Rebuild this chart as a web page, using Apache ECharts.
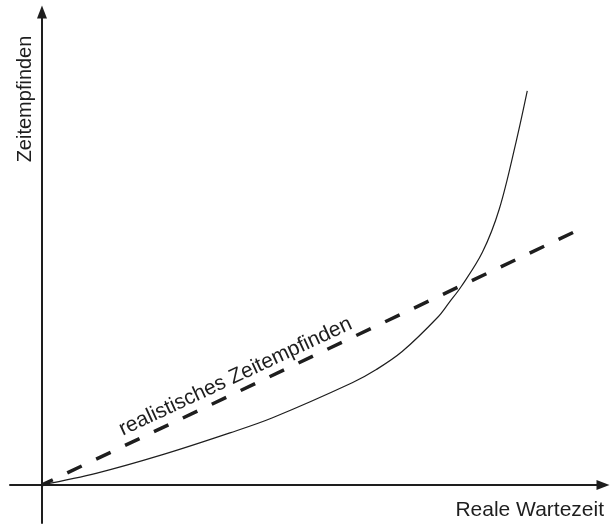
<!DOCTYPE html>
<html>
<head>
<meta charset="utf-8">
<script src="https://cdn.jsdelivr.net/npm/echarts@6/dist/echarts.min.js"></script>
<style>
  html, body { margin: 0; padding: 0; background: #fff; }
  #chart { width: 610px; height: 525px; }
</style>
</head>
<body>
<div id="chart"></div>
<script>
// Perceived waiting time (curve) against real waiting time
const curveX = [0, 9.8, 21.5, 33.5, 41.1, 55.3, 59.6, 64.2, 70.5, 72.6, 74.7, 78.5, 81.5, 84.5, 86.5];
const curveY = [0, 2.5, 6.4, 11.0, 14.2, 21.6, 24.4, 28.2, 35.4, 38.6, 41.9, 49.2, 58.3, 72.5, 83.3];

// Realistic time perception: straight line through the origin
const realX = [0, 94.7];
const realY = [0, 53.4];

const lineLabel = 'realistisches Zeitempfinden';
const labelAnchor = [34.5, 22.9];
const xTitle = 'Reale Wartezeit';
const yTitle = 'Zeitempfinden';

const ink = '#1e1e1e';
const font = 'Liberation Sans, Arial, sans-serif';

const zip = (xs, ys) => xs.map((x, i) => [x, ys[i]]);

const axisCommon = {
  type: 'value',
  axisLine: {
    onZero: true,
    symbol: ['none', 'triangle'],
    symbolSize: [10, 13],
    lineStyle: { color: ink, width: 2 }
  },
  axisTick: { show: false },
  axisLabel: { show: false },
  splitLine: { show: false }
};

const chart = echarts.init(document.getElementById('chart'));
chart.setOption({
  animation: false,
  backgroundColor: '#fff',
  grid: { left: 10, right: 7, top: 12, bottom: 2, containLabel: false },
  xAxis: Object.assign({}, axisCommon, { min: -5.7, max: 100 }),
  yAxis: Object.assign({}, axisCommon, { min: -8.05, max: 100 }),
  series: [
    {
      type: 'line',
      data: zip(realX, realY),
      symbol: 'none',
      lineStyle: { color: ink, width: 3.5, type: [16, 16], dashOffset: 4 },
      markPoint: {
        symbol: 'circle',
        symbolSize: 0,
        data: [{ coord: labelAnchor }],
        label: {
          show: true,
          position: 'inside',
          formatter: lineLabel,
          rotate: 25,
          color: ink,
          fontFamily: font,
          fontSize: 21
        }
      }
    },
    {
      type: 'line',
      data: zip(curveX, curveY),
      symbol: 'none',
      smooth: 0.35,
      lineStyle: { color: ink, width: 1.2 }
    }
  ],
  graphic: [
    {
      type: 'text',
      x: 25, y: 99,
      rotation: Math.PI / 2,
      style: {
        text: yTitle, fill: ink, font: '20px ' + font,
        align: 'center', verticalAlign: 'middle'
      }
    },
    {
      type: 'text',
      x: 604, y: 510,
      style: {
        text: xTitle, fill: ink, font: '21px ' + font,
        align: 'right', verticalAlign: 'middle'
      }
    }
  ]
});
</script>
</body>
</html>
